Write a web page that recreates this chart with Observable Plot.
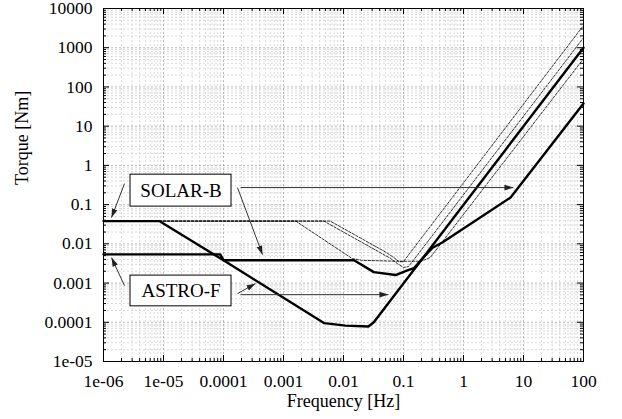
<!DOCTYPE html>
<html><head><meta charset="utf-8">
<script src="https://cdn.jsdelivr.net/npm/d3@7"></script>
<script src="https://cdn.jsdelivr.net/npm/@observablehq/plot@0.6"></script>
<style>body{margin:0;background:#fff;} #chart{width:622px;height:419px;} #chart svg text{font-family:"Liberation Serif","Times New Roman",serif;}</style>
</head><body><div id="chart"></div>
<script>
// Axis ticks
const xTicks = [1e-6, 1e-5, 1e-4, 1e-3, 1e-2, 1e-1, 1, 10, 100];
const xTickLabels = ["1e-06", "1e-05", "0.0001", "0.001", "0.01", "0.1", "1", "10", "100"];
const yTicks = [1e-5, 1e-4, 1e-3, 1e-2, 1e-1, 1, 10, 100, 1000, 10000];
const yTickLabels = ["1e-05", "0.0001", "0.001", "0.01", "0.1", "1", "10", "100", "1000", "10000"];

// Thick curves
const solarBFreq   = [1e-6, 8.5e-6, 1.0e-4, 0.015, 0.032, 0.074, 0.116, 0.15, 0.215, 0.3, 0.45, 6.1, 100];
const solarBTorque = [0.038, 0.038, 0.0038, 0.0038, 0.0019, 0.0016, 0.0021, 0.0024, 0.0045, 0.0078, 0.011, 0.152, 38];
const astroFFreq   = [1e-6, 8.8e-5, 1.0e-4, 0.0048, 0.0108, 0.026, 0.032, 100];
const astroFTorque = [0.0054, 0.0054, 0.0038, 9.5e-5, 8.2e-5, 7.8e-5, 1.0e-4, 1000];

// Thin dashed curves
const dash1Freq   = [1e-6, 0.006, 0.05, 0.07, 0.085, 0.1, 0.12, 100];
const dash1Torque = [0.038, 0.038, 0.0062, 0.0044, 0.0035, 0.0035, 0.0051, 3700];
const dash2Freq   = [1e-6, 0.0047, 0.06, 0.08, 0.1, 0.12, 0.15, 100];
const dash2Torque = [0.038, 0.038, 0.0043, 0.0031, 0.0025, 0.0026, 0.0040, 1800];
const dash3Freq   = [1e-6, 0.0016, 0.014, 0.02, 0.08, 0.2, 0.28, 100];
const dash3Torque = [0.038, 0.038, 0.0042, 0.0038, 0.0036, 0.0036, 0.0045, 525];

// Annotations
const boxLabels = ["SOLAR-B", "ASTRO-F"];
const boxX1 = [2.82e-6, 2.82e-6];
const boxX2 = [1.36e-4, 1.36e-4];
const boxY1 = [0.089, 2.55e-4];
const boxY2 = [0.58, 0.00155];

const arrowX1 = [2.24e-6, 1.71e-4, 1.92e-4, 2.24e-6, 1.71e-4, 1.92e-4];
const arrowY1 = [0.343, 0.272, 0.272, 8.6e-4, 5.37e-4, 5.06e-4];
const arrowX2 = [1.36e-6, 4.47e-4, 6.8, 1.36e-6, 3.41e-4, 0.0562];
const arrowY2 = [0.0466, 0.0053, 0.272, 0.00445, 9.7e-4, 5.06e-4];

const xLabel = "Frequency [Hz]";
const yLabel = "Torque [Nm]";

// Build tables
const toRows = (fs, ts, name) => fs.map((f, i) => ({f, t: ts[i], name}));
const thick = [...toRows(solarBFreq, solarBTorque, "SOLAR-B"), ...toRows(astroFFreq, astroFTorque, "ASTRO-F")];
const dashed = [...toRows(dash1Freq, dash1Torque, "d1"), ...toRows(dash2Freq, dash2Torque, "d2"), ...toRows(dash3Freq, dash3Torque, "d3")];
const boxes = boxLabels.map((label, i) => ({label, x1: boxX1[i], x2: boxX2[i], y1: boxY1[i], y2: boxY2[i]}));
const arrows = arrowX1.map((x1, i) => ({x1, y1: arrowY1[i], x2: arrowX2[i], y2: arrowY2[i]}));
const xLabMap = new Map(xTicks.map((d, i) => [d, xTickLabels[i]]));
const yLabMap = new Map(yTicks.map((d, i) => [d, yTickLabels[i]]));

const minorOf = (ticks) => {
  const out = [];
  for (let i = 0; i < ticks.length - 1; i++) for (let m = 2; m <= 9; m++) out.push(ticks[i] * m);
  return out;
};
const xMinor = minorOf(xTicks);
const yMinor = minorOf(yTicks);

const W = 622, H = 419, mL = 103, mR = 39, mT = 8, mB = 58;
const pw = W - mL - mR, ph = H - mT - mB;
const FF = "'Liberation Serif', 'Times New Roman', serif";

const plot = Plot.plot({
  width: W, height: H,
  marginLeft: mL, marginRight: mR, marginTop: mT, marginBottom: mB,
  style: {fontFamily: FF, fontSize: "17px", background: "white", color: "black"},
  x: {type: "log", domain: [1e-6, 100], label: null},
  y: {type: "log", domain: [1e-5, 1e4], label: null},
  marks: [
    Plot.ruleX(xMinor, {x: d => d, stroke: "#cfcfcf", strokeWidth: 0.8, strokeDasharray: "2,2"}),
    Plot.ruleY(yMinor, {y: d => d, stroke: "#cfcfcf", strokeWidth: 0.8, strokeDasharray: "2,2"}),
    Plot.ruleX(xTicks, {x: d => d, stroke: "#a8a8a8", strokeWidth: 0.8, strokeDasharray: "2,2"}),
    Plot.ruleY(yTicks, {y: d => d, stroke: "#a8a8a8", strokeWidth: 0.8, strokeDasharray: "2,2"}),
    // inward ticks
    Plot.tickX(xTicks, {x: d => d, insetTop: ph - 6, stroke: "black"}),
    Plot.tickX(xTicks, {x: d => d, insetBottom: ph - 6, stroke: "black"}),
    Plot.tickX(xMinor, {x: d => d, insetTop: ph - 3, stroke: "black"}),
    Plot.tickX(xMinor, {x: d => d, insetBottom: ph - 3, stroke: "black"}),
    Plot.tickY(yTicks, {y: d => d, insetRight: pw - 6, stroke: "black"}),
    Plot.tickY(yTicks, {y: d => d, insetLeft: pw - 6, stroke: "black"}),
    Plot.tickY(yMinor, {y: d => d, insetRight: pw - 3, stroke: "black"}),
    Plot.tickY(yMinor, {y: d => d, insetLeft: pw - 3, stroke: "black"}),
    Plot.axisX({ticks: xTicks, tickFormat: d => xLabMap.get(d), tickSize: 0, tickPadding: 13, fontSize: 17.5, fontFamily: FF, label: null}),
    Plot.axisY({ticks: yTicks, tickFormat: d => yLabMap.get(d), tickSize: 0, tickPadding: 11, fontSize: 17.5, fontFamily: FF, label: null}),
    Plot.line(dashed, {x: "f", y: "t", z: "name", stroke: "black", strokeWidth: 0.8, strokeDasharray: "2.5,1.5"}),
    Plot.line(thick, {x: "f", y: "t", z: "name", stroke: "black", strokeWidth: 2.4, strokeLinejoin: "round"}),
    Plot.link(arrows, {x1: "x1", y1: "y1", x2: "x2", y2: "y2", stroke: "#333", strokeWidth: 1}),
    Plot.rect(boxes, {x1: "x1", x2: "x2", y1: "y1", y2: "y2", fill: "white", stroke: "black", strokeWidth: 1}),
    Plot.text(boxes, {x: d => Math.sqrt(d.x1 * d.x2), y: d => Math.sqrt(d.y1 * d.y2), text: "label", fontSize: 19, fontFamily: FF, fill: "black"}),
    Plot.text([xLabel], {text: d => d, frameAnchor: "bottom", dy: 45, fontSize: 18, fontFamily: FF, fill: "black"}),
    Plot.text([yLabel], {text: d => d, frameAnchor: "left", dx: -81, rotate: -90, fontSize: 18, fontFamily: FF, fill: "black"}),
    Plot.frame({stroke: "black", strokeWidth: 1})
  ]
});

// filled arrowheads
const ns = "http://www.w3.org/2000/svg";
const svg = plot.tagName.toLowerCase() === "svg" ? plot : plot.querySelector("svg");
const defs = document.createElementNS(ns, "defs");
const marker = document.createElementNS(ns, "marker");
marker.setAttribute("id", "ahead");
marker.setAttribute("viewBox", "0 0 10 10");
marker.setAttribute("refX", "10");
marker.setAttribute("refY", "5");
marker.setAttribute("markerWidth", "9");
marker.setAttribute("markerHeight", "9");
marker.setAttribute("markerUnits", "userSpaceOnUse");
marker.setAttribute("orient", "auto");
const mp = document.createElementNS(ns, "path");
mp.setAttribute("d", "M0,1.8L10,5L0,8.2Z");
mp.setAttribute("fill", "#222");
marker.appendChild(mp);
defs.appendChild(marker);
svg.insertBefore(defs, svg.firstChild);
svg.querySelectorAll('g[aria-label="link"] path').forEach(p => p.setAttribute("marker-end", "url(#ahead)"));

document.getElementById("chart").appendChild(plot);
</script></body></html>
